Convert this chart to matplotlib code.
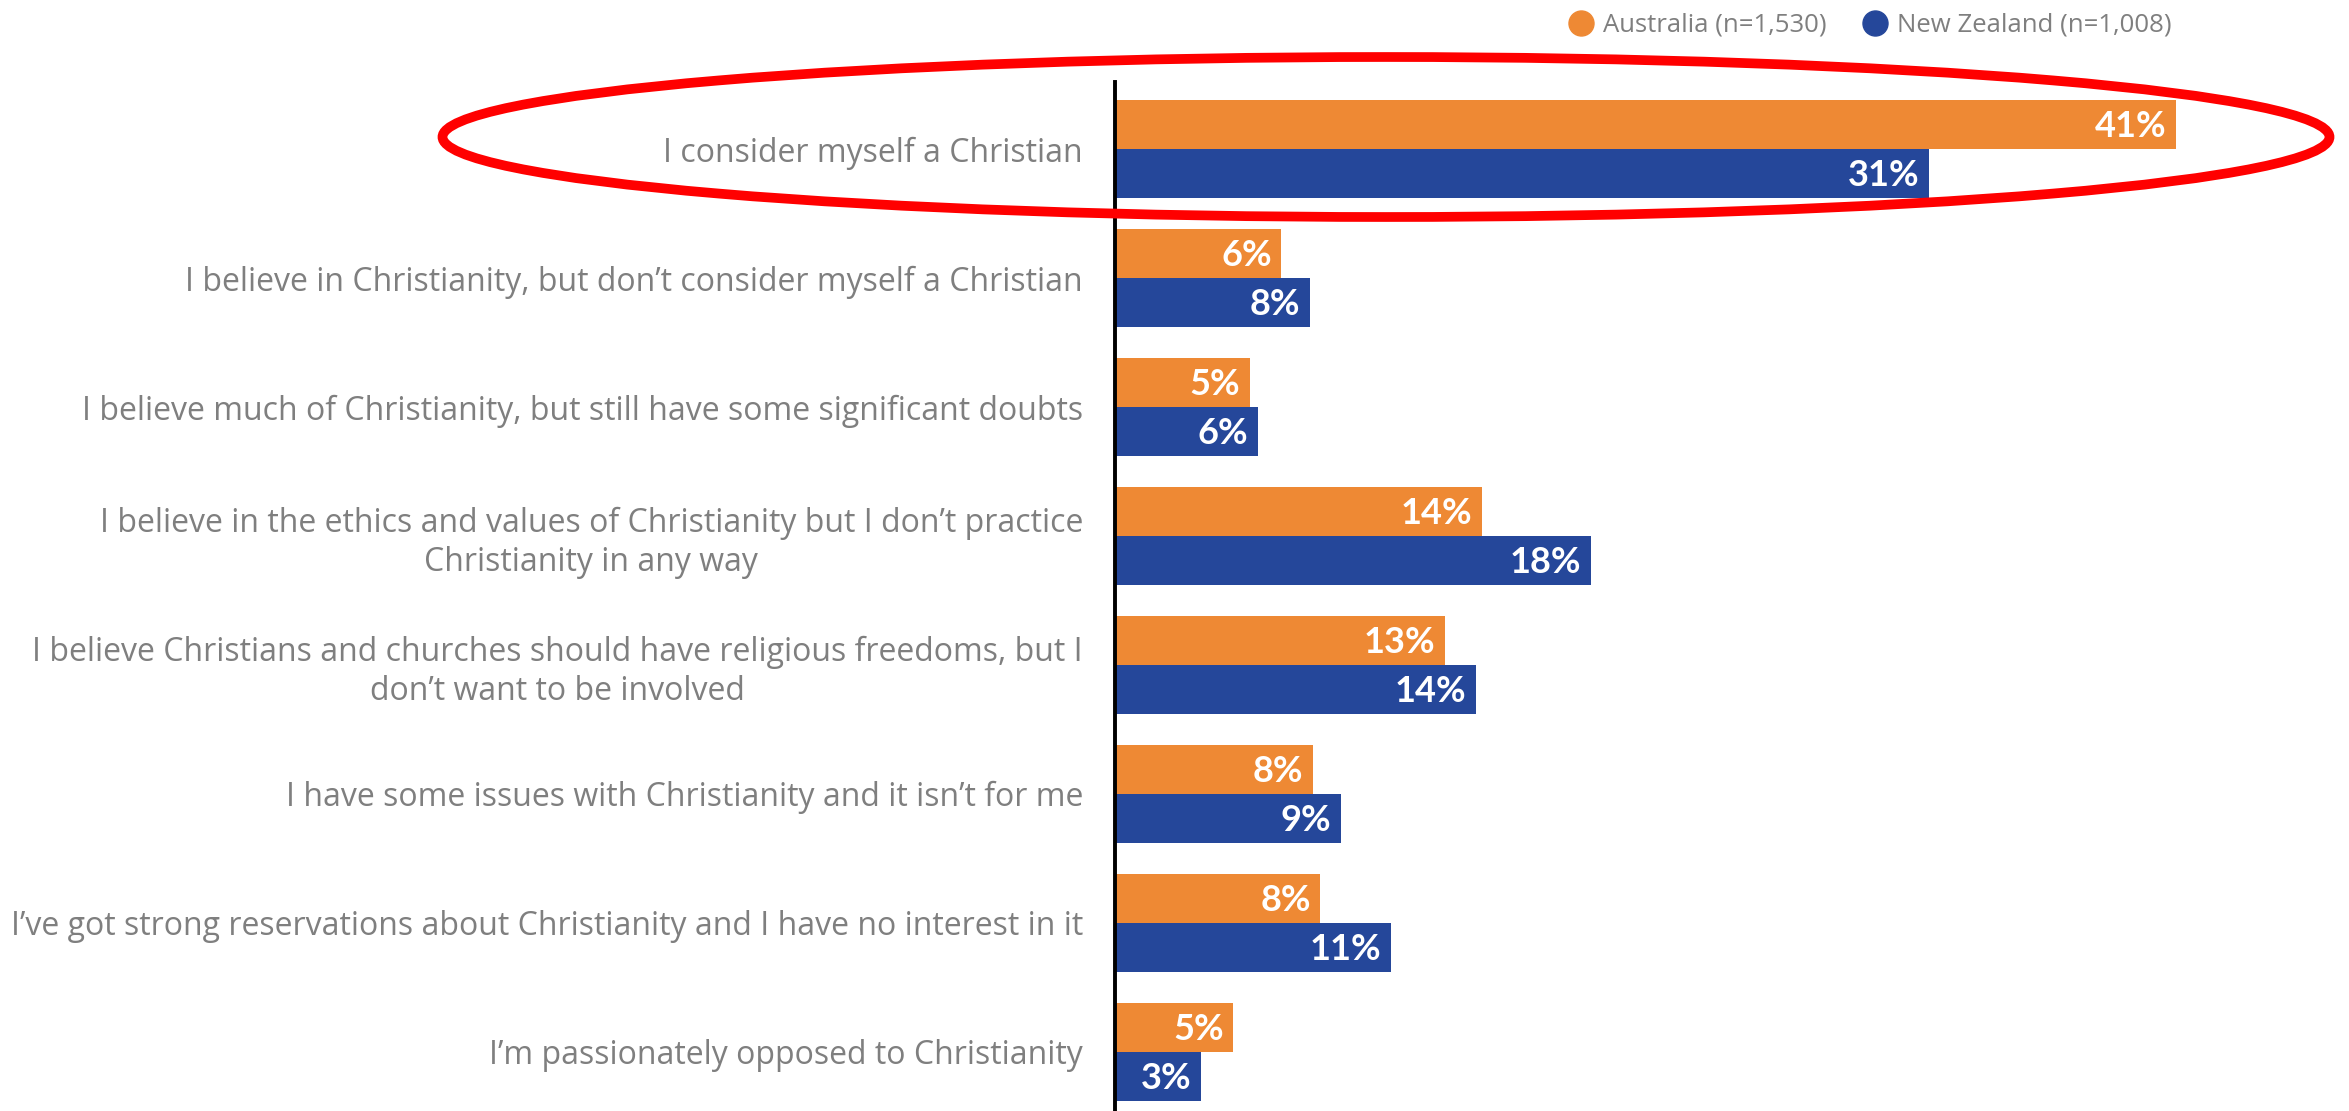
import matplotlib
matplotlib.use("Agg")
import matplotlib.pyplot as plt
from matplotlib.lines import Line2D
from matplotlib.patches import Ellipse
import numpy as np

plt.rcParams['font.family'] = ['Open Sans', 'DejaVu Sans']

categories = [
    "I consider myself a Christian",
    "I believe in Christianity, but don\u2019t consider myself a Christian",
    "I believe much of Christianity, but still have some significant doubts",
    "I believe in the ethics and values of Christianity but I don\u2019t practice\nChristianity in any way",
    "I believe Christians and churches should have religious freedoms, but I\ndon\u2019t want to be involved",
    "I have some issues with Christianity and it isn\u2019t for me",
    "I\u2019ve got strong reservations about Christianity and I have no interest in it",
    "I\u2019m passionately opposed to Christianity",
]
# bar lengths (percent)
australia = [40.8, 6.4, 5.2, 14.1, 12.7, 7.6, 7.9, 4.55]
new_zealand = [31.3, 7.5, 5.5, 18.3, 13.9, 8.7, 10.6, 3.3]
series_names = ["Australia (n=1,530)", "New Zealand (n=1,008)"]

c_au = "#EE8934"
c_nz = "#25479A"
grey = "#7F7F7F"

W, H = 2349, 1111
fig = plt.figure(figsize=(W / 100, H / 100), dpi=100)
ax_left, ax_right, ax_top, ax_bot = 1115, 2349, 82, 1111
ax = fig.add_axes([ax_left / W, 1 - ax_bot / H, (ax_right - ax_left) / W, (ax_bot - ax_top) / H])

y = np.arange(len(categories))
bh = 0.38
b1 = ax.barh(y - bh / 2, australia, height=bh, color=c_au)
b2 = ax.barh(y + bh / 2, new_zealand, height=bh, color=c_nz)

for bars, vals in ((b1, australia), (b2, new_zealand)):
    for rect, v in zip(bars, vals):
        ax.annotate(f"{int(v + 0.5)}%", (rect.get_width(), rect.get_y() + rect.get_height() / 2),
                    xytext=(-7, -1.5), textcoords="offset points", ha="right", va="center",
                    color="white", fontsize=26, fontweight="bold", family=['Lato', 'DejaVu Sans'])

ax.set_xlim(0, (ax_right - ax_left) / 26.0)
ax.set_ylim(len(categories) - 1 + 0.46, -0.52)
ax.set_yticks(y)
ax.set_yticklabels(categories, fontsize=23, color=grey)
for t in ax.get_yticklabels():
    t.set_multialignment("center")
    t.set_linespacing(1.25)
ax.tick_params(axis="y", length=0, pad=23)
ax.set_xticks([])
for s in ("top", "right", "bottom"):
    ax.spines[s].set_visible(False)
ax.spines["left"].set_linewidth(2.8)
ax.spines["left"].set_color("black")

handles = [Line2D([], [], marker="o", linestyle="none", markersize=18, color=c_au),
           Line2D([], [], marker="o", linestyle="none", markersize=18, color=c_nz)]
leg = fig.legend(handles, series_names, loc="center right", bbox_to_anchor=(2172 / W, 1 - 25 / H),
                 ncol=2, frameon=False, fontsize=18.5, handlelength=1.0, handletextpad=0.375,
                 columnspacing=1.37, borderpad=0, borderaxespad=0)
for t in leg.get_texts():
    t.set_color(grey)

ell = Ellipse((1386 / W, 1 - 137 / H), 1887 / W, 160 / H, transform=fig.transFigure,
              fill=False, edgecolor="#FF0000", linewidth=7, clip_on=False)
fig.add_artist(ell)

fig.savefig("out.png", dpi=100)
